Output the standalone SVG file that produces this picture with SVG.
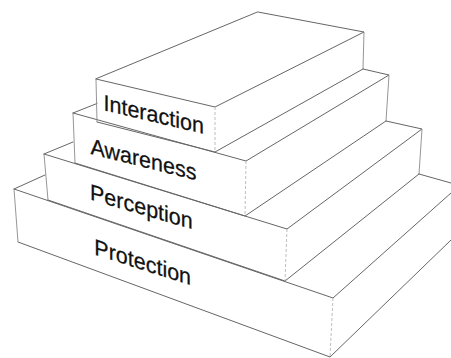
<svg xmlns="http://www.w3.org/2000/svg" width="451" height="358" viewBox="0 0 451 358">
<style>
.e{fill:none;stroke:#666;stroke-width:1;stroke-linecap:round;stroke-linejoin:round}
.v{fill:none;stroke:#8a8a8a;stroke-width:0.9}
.h{fill:none;stroke:#b5b5b5;stroke-width:0.9;stroke-dasharray:3 2}
.lbl{font-family:"Liberation Sans",Arial,sans-serif;font-size:21.5px;fill:#111;stroke:#111;stroke-width:0.25}
</style>
<rect width="451" height="358" fill="#fff"/>
<g id="protection">
<path class="e" d="M14,189 L45,175 M14,189 L333,298 L451,193 M419,174 L451,183 M18,242 L330,357 L451,240"/>
<path class="v" d="M14,189 L18,242"/>
<path class="h" d="M333,298 L330,357"/>
<text class="lbl" transform="translate(94.3,254.5) skewY(17.7) scale(1,1.05)">Protection</text>
</g>
<g id="perception">
<path class="e" d="M44,154 L73,142 M44,154 L287,229 L422,129 L386,121 M48,200 L285,281 L419,174"/>
<path class="v" d="M44,154 L48,200 M422,129 L419,174"/>
<path class="h" d="M287,229 L285,281"/>
<text class="lbl" transform="translate(90,199.5) skewY(16.2) scale(1,1.05)">Perception</text>
</g>
<g id="awareness">
<path class="e" d="M73,113 L97,103.5 M73,113 L246,161 L389,75 L363,69 M75,163 L245,216 L386,121"/>
<path class="v" d="M73,113 L75,163 M389,75 L386,121"/>
<path class="h" d="M246,161 L245,216"/>
<text class="lbl" transform="translate(90.5,154) skewY(14) scale(1,1.05)">Awareness</text>
</g>
<g id="interaction">
<path class="e" d="M96,79 L215,107 L364,32 L258,12 Z M97,122 L215,152 L363,69"/>
<path class="v" d="M96,79 L97,122 M364,32 L363,69"/>
<path class="h" d="M215,107 L215,152"/>
<text class="lbl" transform="translate(103.5,110.2) skewY(13.3) scale(1,1.05)">Interaction</text>
</g>
</svg>
